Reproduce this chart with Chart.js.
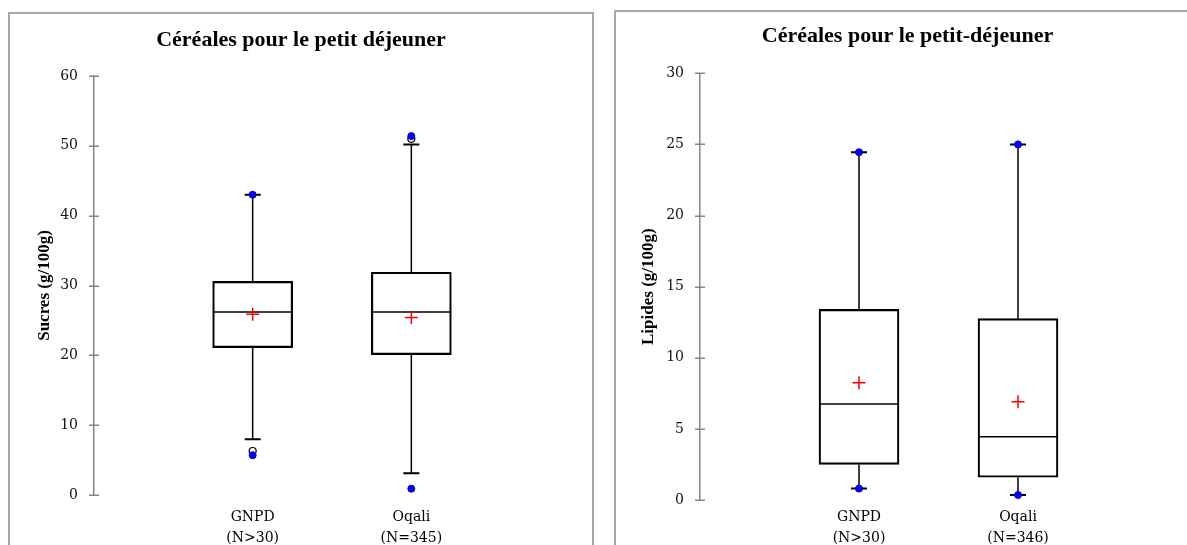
<!DOCTYPE html>
<html lang="fr">
<head>
<meta charset="utf-8">
<title>Céréales pour le petit déjeuner</title>
<script src="https://cdn.jsdelivr.net/npm/chart.js@4.4.0/dist/chart.umd.min.js"></script>
<style>
    html, body { margin: 0; padding: 0; background: #fff; }
    body { width: 1187px; height: 545px; overflow: hidden; position: relative; }
    .frame { position: absolute; border: 2px solid #a6a6a6; box-sizing: border-box; }
    #frameLeft { left: 8px; top: 12px; width: 586px; height: 600px; }
    #frameRight { left: 614px; top: 10px; width: 586px; height: 600px; }
    canvas { position: absolute; top: 0; }
    #sugarChart { left: 9px; }
    #fatChart { left: 615px; }
</style>
</head>
<body>
<div class="frame" id="frameLeft"></div>
<div class="frame" id="frameRight"></div>
<canvas id="sugarChart" width="584" height="600"></canvas>
<canvas id="fatChart" width="584" height="600"></canvas>

<script>
// =======================
// Boxplots – Sucres / Lipides
// =======================

// ---------- DATA ----------
const categories = ["GNPD", "Oqali"];
const sugarCounts = ["(N>30)", "(N=345)"];
const fatCounts = ["(N>30)", "(N=346)"];

// Sucres (g/100g)
const sugarQ1 = [21.1, 20.1];
const sugarMedian = [26.2, 26.2];
const sugarQ3 = [30.6, 31.9];
const sugarWhiskerLow = [8.0, 3.1];
const sugarWhiskerHigh = [43.0, 50.2];
const sugarMean = [25.9, 25.4];
const sugarMin = [5.7, 0.9];
const sugarMax = [43.0, 51.4];
const sugarOutliers = [[6.3], [51.0]];

// Lipides (g/100g)
const fatQ1 = [2.5, 1.6];
const fatMedian = [6.75, 4.45];
const fatQ3 = [13.4, 12.75];
const fatWhiskerLow = [0.8, 0.35];
const fatWhiskerHigh = [24.45, 25.0];
const fatMean = [8.25, 6.9];
const fatMin = [0.8, 0.35];
const fatMax = [24.45, 25.0];
const fatOutliers = [[], []];

// y axis ticks
const sugarAxis = { max: 60, step: 10 };
const fatAxis = { max: 30, step: 5 };

// ---------- STYLE ----------
const axisGrey = "#868686";
const titleFont = "'Liberation Serif', 'Times New Roman', serif";
const tickFont = "'DejaVu Serif', serif";

// ---------- BOX PLOT BUILDER ----------
function boxChart(canvasId, s, look) {
    const boxes = categories.map((c, i) => ({ x: i + 1, y: [s.q1[i], s.q3[i]] }));
    const means = categories.map((c, i) => ({ x: i + 1, y: s.mean[i] }));

    const extremes = [];
    categories.forEach((c, i) => {
        extremes.push({ x: i + 1, y: s.min[i] }, { x: i + 1, y: s.max[i] });
    });

    const outliers = [];
    s.outliers.forEach((list, i) => list.forEach(v => outliers.push({ x: i + 1, y: v })));

    // whiskers, caps, median + y tick marks
    const whiskerPlugin = {
        id: "whiskers",
        beforeDatasetsDraw(chart) {
            const { ctx, chartArea } = chart;
            const yScale = chart.scales.y;
            ctx.save();
            ctx.strokeStyle = axisGrey;
            ctx.lineWidth = 1.5;
            yScale.ticks.forEach((t, i) => {
                const py = Math.round(yScale.getPixelForTick(i)) + 0.25;
                ctx.beginPath();
                ctx.moveTo(chartArea.left - 5, py);
                ctx.lineTo(chartArea.left + 5, py);
                ctx.stroke();
            });
            ctx.restore();
        },
        afterDatasetDraw(chart, args) {
            if (args.meta.type !== "bar") return;
            const { ctx } = chart;
            const xScale = chart.scales.x;
            const yScale = chart.scales.y;

            ctx.save();
            ctx.strokeStyle = "#000";

            categories.forEach((c, i) => {
                const px = xScale.getPixelForValue(i + 1);
                const half = args.meta.data[i].width / 2;

                // median
                ctx.lineWidth = 1.5;
                ctx.beginPath();
                ctx.moveTo(px - half, yScale.getPixelForValue(s.median[i]));
                ctx.lineTo(px + half, yScale.getPixelForValue(s.median[i]));
                ctx.stroke();

                // whiskers
                ctx.beginPath();
                ctx.moveTo(px, yScale.getPixelForValue(s.q3[i]));
                ctx.lineTo(px, yScale.getPixelForValue(s.whiskerHigh[i]));
                ctx.moveTo(px, yScale.getPixelForValue(s.q1[i]));
                ctx.lineTo(px, yScale.getPixelForValue(s.whiskerLow[i]));
                ctx.stroke();

                // caps
                ctx.lineWidth = 2;
                ctx.beginPath();
                [s.whiskerHigh[i], s.whiskerLow[i]].forEach(v => {
                    const py = yScale.getPixelForValue(v);
                    ctx.moveTo(px - 8, py);
                    ctx.lineTo(px + 8, py);
                });
                ctx.stroke();
            });
            ctx.restore();
        }
    };

    return new Chart(document.getElementById(canvasId), {
        type: "bar",
        data: {
            datasets: [
                {
                    type: "bar",
                    data: boxes,
                    backgroundColor: "rgba(0,0,0,0)",
                    borderColor: "#000",
                    borderWidth: 1.5,
                    borderSkipped: false,
                    barThickness: 80,
                    order: 3
                },
                {
                    type: "scatter",
                    data: outliers,
                    pointStyle: "circle",
                    pointRadius: 3.5,
                    backgroundColor: "#fff",
                    borderColor: "#000",
                    borderWidth: 1.2,
                    order: 2
                },
                {
                    type: "scatter",
                    data: extremes,
                    pointStyle: "circle",
                    pointRadius: 3.5,
                    backgroundColor: "#0000ff",
                    borderColor: "#0000d0",
                    borderWidth: 1,
                    order: 1
                },
                {
                    type: "scatter",
                    data: means,
                    pointStyle: "cross",
                    pointRadius: 6.5,
                    borderColor: "#ff0000",
                    borderWidth: 1.5,
                    order: 0
                }
            ]
        },
        plugins: [whiskerPlugin],
        options: {
            responsive: false,
            animation: false,
            devicePixelRatio: 1,
            layout: { padding: { left: 23, right: look.padRight, top: 0, bottom: 0 } },
            plugins: {
                legend: { display: false },
                tooltip: { enabled: false },
                title: {
                    display: true,
                    text: look.title,
                    color: "#000",
                    font: { family: titleFont, size: 22, weight: "bold" },
                    padding: { top: look.titleTop, bottom: look.titleBottom }
                }
            },
            scales: {
                x: {
                    type: "linear",
                    min: 0,
                    max: 3,
                    offset: false,
                    grid: { display: false, drawTicks: false },
                    border: { display: false },
                    afterFit(scale) { scale.height = look.xHeight; },
                    ticks: {
                        stepSize: 1,
                        autoSkip: false,
                        maxRotation: 0,
                        padding: look.xPad,
                        color: "#000",
                        font: { family: tickFont, size: 14, lineHeight: 1.45 },
                        callback(value) {
                            const i = value - 1;
                            return i >= 0 && i < categories.length ? [categories[i], look.counts[i]] : "";
                        }
                    }
                },
                y: {
                    min: 0,
                    max: look.axis.max,
                    grid: { display: false, drawTicks: false },
                    border: { display: true, color: axisGrey, width: 1.5 },
                    afterFit(scale) { scale.width = 62; },
                    ticks: {
                        stepSize: look.axis.step,
                        padding: 16,
                        color: "#111",
                        font: { family: tickFont, size: 14 }
                    },
                    title: {
                        display: true,
                        text: look.yTitle,
                        color: "#000",
                        font: { family: titleFont, size: 17, weight: "bold" },
                        padding: { top: look.yTitlePad, bottom: 0 }
                    }
                }
            }
        }
    });
}

// ---------- INIT CHARTS ----------
boxChart("sugarChart", {
    q1: sugarQ1, median: sugarMedian, q3: sugarQ3,
    whiskerLow: sugarWhiskerLow, whiskerHigh: sugarWhiskerHigh,
    mean: sugarMean, min: sugarMin, max: sugarMax, outliers: sugarOutliers
}, {
    title: "Céréales pour le petit déjeuner",
    yTitle: "Sucres (g/100g)",
    counts: sugarCounts,
    axis: sugarAxis,
    padRight: 23,
    titleTop: 27.3,
    titleBottom: 22.3,
    xHeight: 105,
    xPad: 12.5,
    yTitlePad: 2.8
});

boxChart("fatChart", {
    q1: fatQ1, median: fatMedian, q3: fatQ3,
    whiskerLow: fatWhiskerLow, whiskerHigh: fatWhiskerHigh,
    mean: fatMean, min: fatMin, max: fatMax, outliers: fatOutliers
}, {
    title: "Céréales pour le petit-déjeuner",
    yTitle: "Lipides (g/100g)",
    counts: fatCounts,
    axis: fatAxis,
    padRight: 22,
    titleTop: 23.2,
    titleBottom: 23.7,
    xHeight: 100,
    xPad: 7.5,
    yTitlePad: 0
});
</script>
</body>
</html>
